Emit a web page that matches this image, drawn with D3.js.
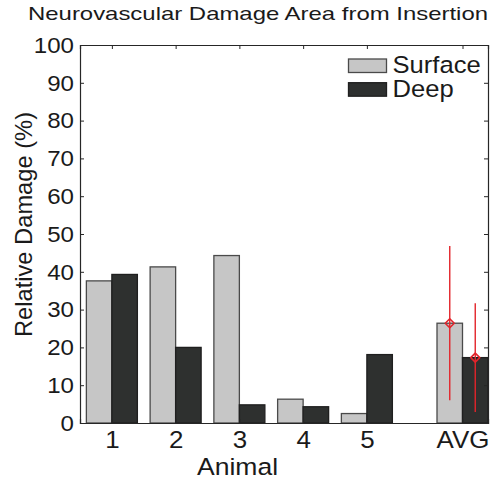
<!DOCTYPE html>
<html>
<head>
<meta charset="utf-8">
<script src="https://cdn.jsdelivr.net/npm/d3@7"></script>
<style>
  html, body { margin: 0; padding: 0; background: #fff; }
  svg { display: block; font-family: "Liberation Sans", Arial, Helvetica, sans-serif; }
</style>
</head>
<body>
<svg id="chart" width="493" height="481"></svg>
<script>
// Relative neurovascular damage per animal, surface vs deep, plus the average
const categories = ["1", "2", "3", "4", "5", "AVG"];
const categoryPositions = [1, 2, 3, 4, 5, 6.5];
const surfaceValues = [37.6, 41.3, 44.3, 6.3, 2.5, 26.4];
const deepValues = [39.3, 20.0, 4.8, 4.3, 18.1, 17.3];
// standard deviation shown on the AVG bars [surface, deep]
const avgErrors = [20.4, 14.4];
const yTicks = [0, 10, 20, 30, 40, 50, 60, 70, 80, 90, 100];
const seriesNames = ["Surface", "Deep"];

const svg = d3.select("#chart");
const plotLeft = 80, plotRight = 488, plotTop = 45, plotBottom = 423;

const x = d3.scaleLinear().domain([0.5, 6.9]).range([plotLeft, plotRight]);
const y = d3.scaleLinear().domain([0, 100]).range([plotBottom, plotTop]);
const barW = 0.4;

const fills = { Surface: "#c6c6c6", Deep: "#2e302f" };
const strokes = { Surface: "#4a4a4a", Deep: "#1f1f1f" };

// widen glyphs horizontally by factor k (the figure's font runs a bit wide)
function widen(sel, k) {
  sel.each(function () {
    const w = this.getComputedTextLength();
    d3.select(this).attr("textLength", w * k).attr("lengthAdjust", "spacingAndGlyphs");
  });
}

const rows = categories.map((c, i) => ({
  cat: c, pos: categoryPositions[i], surface: surfaceValues[i], deep: deepValues[i]
}));

// bars
const g = svg.append("g");
g.selectAll("rect.surface").data(rows).join("rect")
  .attr("class", "surface")
  .attr("x", d => x(d.pos - barW))
  .attr("width", d => x(d.pos) - x(d.pos - barW))
  .attr("y", d => y(d.surface))
  .attr("height", d => y(0) - y(d.surface))
  .attr("fill", fills.Surface)
  .attr("stroke", strokes.Surface)
  .attr("stroke-width", 1.3);

g.selectAll("rect.deep").data(rows).join("rect")
  .attr("class", "deep")
  .attr("x", d => x(d.pos))
  .attr("width", d => x(d.pos + barW) - x(d.pos))
  .attr("y", d => y(d.deep))
  .attr("height", d => y(0) - y(d.deep))
  .attr("fill", fills.Deep)
  .attr("stroke", strokes.Deep)
  .attr("stroke-width", 1.3);

// error bars on the average
const avg = rows[rows.length - 1];
const errs = [
  { cx: avg.pos - barW / 2, v: avg.surface, e: avgErrors[0] },
  { cx: avg.pos + barW / 2, v: avg.deep, e: avgErrors[1] }
];
const eg = svg.append("g").attr("stroke", "#e3242b").attr("fill", "none");
errs.forEach(d => {
  eg.append("line")
    .attr("x1", x(d.cx)).attr("x2", x(d.cx))
    .attr("y1", y(d.v + d.e)).attr("y2", y(d.v - d.e))
    .attr("stroke-width", 1.4);
  const px = x(d.cx), py = y(d.v), r = 4.5;
  eg.append("path")
    .attr("d", `M${px},${py - r}L${px + r},${py}L${px},${py + r}L${px - r},${py}Z`)
    .attr("stroke-width", 1.6)
    .attr("stroke-linejoin", "round");
});

// axes
const axisColor = "#262626";
const textColor = "#1a1a1a";

const yAxis = svg.append("g").attr("transform", `translate(${plotLeft},0)`)
  .call(d3.axisLeft(y).tickValues(yTicks).tickSize(-4).tickPadding(6).tickFormat(d3.format("d")));
const yAxisR = svg.append("g").attr("transform", `translate(${plotRight},0)`)
  .call(d3.axisRight(y).tickValues(yTicks).tickSize(-4).tickFormat(""));
const xAxis = svg.append("g").attr("transform", `translate(0,${plotBottom})`)
  .call(d3.axisBottom(x).tickValues(categoryPositions).tickSize(-4).tickPadding(8)
    .tickFormat((d, i) => categories[i]));
const xAxisT = svg.append("g").attr("transform", `translate(0,${plotTop})`)
  .call(d3.axisTop(x).tickValues(categoryPositions).tickSize(-4).tickFormat(""));

[yAxis, yAxisR, xAxis, xAxisT].forEach(a => {
  a.select(".domain").attr("stroke", axisColor).attr("stroke-width", 1.2);
  a.selectAll(".tick line").attr("stroke", axisColor).attr("stroke-width", 1);
  a.selectAll(".tick text").attr("fill", textColor)
    .style("font-family", "'Liberation Sans', Arial, sans-serif");
});
yAxis.selectAll(".tick text").style("font-size", "22.5px");
widen(yAxis.selectAll(".tick text"), 1.07);
xAxis.selectAll(".tick text").style("font-size", "24px");
widen(xAxis.selectAll(".tick text"), 1.08);

// title and axis labels
svg.append("text")
  .attr("x", 258).attr("y", 19.5)
  .attr("text-anchor", "middle")
  .style("font-size", "19px").attr("fill", textColor)
  .attr("textLength", 460).attr("lengthAdjust", "spacingAndGlyphs")
  .text("Neurovascular Damage Area from Insertion");

widen(svg.append("text")
  .attr("x", 237.5).attr("y", 475)
  .attr("text-anchor", "middle")
  .style("font-size", "23.7px").attr("fill", textColor)
  .text("Animal"), 1.12);

svg.append("text")
  .attr("transform", `translate(32.3,224.5) rotate(-90)`)
  .attr("text-anchor", "middle")
  .style("font-size", "23.7px").attr("fill", textColor)
  .text("Relative Damage (%)");

// legend
const legend = svg.append("g");
seriesNames.forEach((name, i) => {
  const ly = 59 + i * 23.7;
  legend.append("rect")
    .attr("x", 348.5).attr("y", ly)
    .attr("width", 38).attr("height", 13.5)
    .attr("fill", fills[name]).attr("stroke", strokes[name]).attr("stroke-width", 1.3);
  widen(legend.append("text")
    .attr("x", 392.5).attr("y", ly + 14.3)
    .style("font-size", "23.7px").attr("fill", textColor)
    .text(name), 1.08);
});
</script>
</body>
</html>
